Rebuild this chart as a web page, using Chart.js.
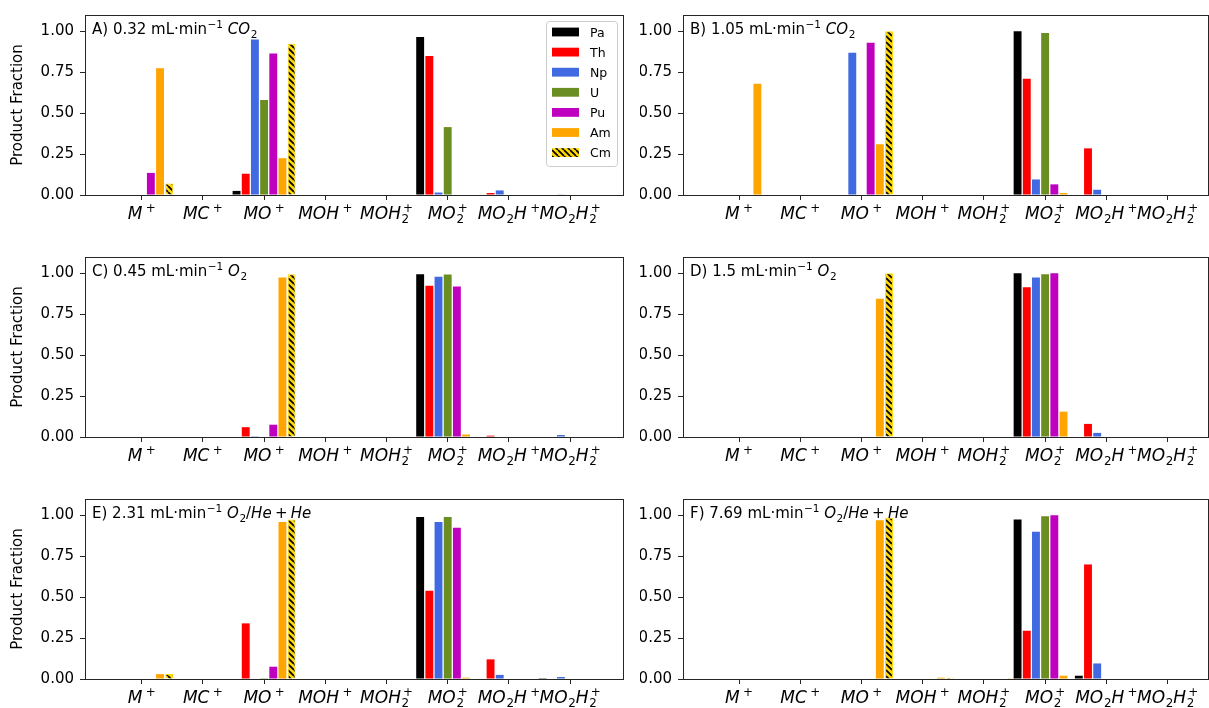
<!DOCTYPE html>
<html>
<head>
<meta charset="utf-8">
<script src="https://cdn.jsdelivr.net/npm/chart.js@4/dist/chart.umd.min.js"></script>
<style>
  body { margin: 0; background: #fff; width: 1209px; height: 708px; overflow: hidden; position: relative; }
  canvas { position: absolute; }
</style>
</head>
<body>
<script>
// categories (mathtext-like: _ = subscript, ^ = superscript)
const categories = ['$M^+$', '$MC^+$', '$MO^+$', '$MOH^+$', '$MOH_2^+$', '$MO_2^+$', '$MO_2H^+$', '$MO_2H_2^+$'];
const elements = ['Pa', 'Th', 'Np', 'U', 'Pu', 'Am', 'Cm'];
const colors = ['#000000', '#ff0000', '#4169e1', '#6b8e23', '#bf00bf', '#ffa500', '#ffd700'];
const yTicks = [0, 0.25, 0.5, 0.75, 1.0];
const titles = [
  'A) 0.32 mL·min$^{-1}$ $CO_2$',
  'B) 1.05 mL·min$^{-1}$ $CO_2$',
  'C) 0.45 mL·min$^{-1}$ $O_2$',
  'D) 1.5 mL·min$^{-1}$ $O_2$',
  'E) 2.31 mL·min$^{-1}$ $O_2/He + He$',
  'F) 7.69 mL·min$^{-1}$ $O_2/He + He$'
];

// product fractions, one row per element (Pa, Th, Np, U, Pu, Am, Cm), columns in category order
const panelA = [
  [0, 0, 0.025, 0, 0, 0.965, 0, 0.003],
  [0, 0, 0.13, 0, 0, 0.85, 0.012, 0],
  [0, 0, 0.95, 0, 0, 0.015, 0.028, 0.004],
  [0, 0, 0.58, 0, 0, 0.415, 0, 0],
  [0.135, 0, 0.865, 0, 0, 0, 0, 0],
  [0.775, 0, 0.225, 0, 0, 0, 0, 0],
  [0.07, 0, 0.925, 0, 0, 0, 0, 0]
];
const panelB = [
  [0, 0, 0, 0, 0, 1.0, 0, 0],
  [0, 0, 0, 0, 0, 0.71, 0.285, 0],
  [0, 0, 0.87, 0, 0, 0.095, 0.032, 0],
  [0, 0, 0, 0, 0, 0.99, 0, 0],
  [0, 0, 0.93, 0, 0, 0.065, 0, 0],
  [0.68, 0, 0.31, 0, 0, 0.012, 0, 0],
  [0, 0, 1.0, 0, 0, 0, 0, 0]
];
const panelC = [
  [0, 0, 0, 0, 0, 0.995, 0, 0],
  [0, 0, 0.06, 0, 0, 0.925, 0.008, 0],
  [0, 0, 0.005, 0, 0, 0.98, 0, 0.012],
  [0, 0, 0, 0, 0, 0.993, 0, 0],
  [0, 0, 0.075, 0, 0, 0.92, 0, 0],
  [0.003, 0, 0.975, 0, 0.003, 0.015, 0, 0],
  [0, 0, 0.995, 0, 0, 0, 0, 0]
];
const panelD = [
  [0, 0, 0, 0, 0, 1.0, 0, 0],
  [0, 0, 0, 0, 0, 0.915, 0.08, 0],
  [0, 0, 0, 0, 0, 0.975, 0.025, 0],
  [0, 0, 0, 0, 0, 0.995, 0, 0],
  [0, 0, 0, 0, 0, 1.0, 0, 0],
  [0, 0, 0.845, 0, 0, 0.155, 0, 0],
  [0, 0, 1.0, 0, 0, 0, 0, 0]
];
const panelE = [
  [0, 0, 0, 0, 0, 0.99, 0, 0.005],
  [0, 0, 0.34, 0, 0, 0.54, 0.12, 0],
  [0, 0, 0, 0, 0, 0.96, 0.025, 0.012],
  [0, 0, 0.005, 0, 0, 0.99, 0, 0],
  [0, 0, 0.075, 0, 0, 0.925, 0, 0],
  [0.03, 0, 0.96, 0, 0, 0.008, 0, 0],
  [0.03, 0, 0.975, 0, 0, 0, 0, 0]
];
const panelF = [
  [0, 0, 0, 0, 0, 0.975, 0.02, 0],
  [0, 0, 0, 0, 0, 0.295, 0.7, 0],
  [0, 0, 0, 0, 0, 0.9, 0.095, 0],
  [0, 0, 0, 0, 0, 0.995, 0, 0],
  [0, 0, 0, 0, 0, 1.0, 0, 0],
  [0, 0, 0.97, 0.008, 0, 0.02, 0, 0],
  [0, 0, 0.985, 0.008, 0.006, 0, 0, 0]
];
const panels = [panelA, panelB, panelC, panelD, panelE, panelF];

// layout (page pixels)
const colPlot = [[85, 623], [683, 1208]];
const colCanvas = [[0, 640], [640, 1209]];
const rowPlot = [[12, 195], [254, 437], [496, 679]];
const xLimits = [[-0.926, 7.864], [-0.915, 7.66]];
const FONT = '"DejaVu Sans", sans-serif';
const INK = '#262626';

// Cm hatch
function makeHatch() {
  const c = document.createElement('canvas');
  c.width = 6; c.height = 6;
  const g = c.getContext('2d');
  g.fillStyle = '#ffd700';
  g.fillRect(0, 0, 6, 6);
  g.strokeStyle = '#000';
  g.lineWidth = 1.7;
  g.beginPath();
  for (const o of [-6, 0, 6]) { g.moveTo(o, 0); g.lineTo(o + 6, 6); }
  g.stroke();
  return g.createPattern(c, 'repeat');
}
const cmHatch = makeHatch();

// tiny mathtext: letters in $..$ italic, _x / ^{..} scripts
function mathItems(src) {
  const out = [];
  src.split('$').forEach((part, k) => {
    if (k % 2 === 0) { if (part) out.push({ t: part, it: false, lvl: 0 }); return; }
    let i = 0;
    while (i < part.length) {
      const ch = part[i];
      if (ch === '_' || ch === '^') {
        i++;
        let arg;
        if (part[i] === '{') { const j = part.indexOf('}', i); arg = part.slice(i + 1, j); i = j + 1; }
        else { arg = part[i]; i++; }
        out.push({ t: arg.replace(/-/g, '\u2212'), it: /[A-Za-z]/.test(arg), lvl: ch === '_' ? -1 : 1 });
      } else {
        i++;
        if (ch === ' ') continue;
        if (ch === '+') out.push({ t: '+', it: false, lvl: 0, pad: true });
        else out.push({ t: ch, it: /[A-Za-z]/.test(ch), lvl: 0 });
      }
    }
  });
  return out;
}

function drawMath(ctx, src, x, y, size, align) {
  const font = (it, s) => (it ? 'italic ' : '') + s + 'px ' + FONT;
  let pen = 0, subX = 0, subW = 0, prev = 0, prevIt = false;
  const placed = [];
  for (const it of mathItems(src)) {
    const s = it.lvl ? size * 0.7 : size;
    ctx.font = font(it.it, s);
    const w = ctx.measureText(it.t).width;
    if (it.lvl === 0) {
      if (it.pad) pen += size * 0.22;
      placed.push({ it, s, x: pen, dy: 0 });
      pen += w;
      if (it.pad) pen += size * 0.22;
      prevIt = it.it;
    } else if (it.lvl === -1) {
      pen += size * (prevIt ? 0.04 : 0);
      placed.push({ it, s, x: pen, dy: size * 0.24 });
      subX = pen; subW = w; pen += w;
    } else if (prev === -1) {
      placed.push({ it, s, x: subX + size * 0.08, dy: -size * 0.42 });
      pen = subX + Math.max(subW, w + size * 0.08);
    } else {
      const x0 = pen + size * (prevIt ? 0.2 : 0.03);
      placed.push({ it, s, x: x0, dy: -size * 0.42 });
      pen = x0 + w;
    }
    prev = it.lvl;
  }
  const left = align === 'center' ? x - pen / 2 : x;
  ctx.textAlign = 'left';
  ctx.textBaseline = 'alphabetic';
  for (const p of placed) {
    ctx.font = font(p.it.it, p.s);
    ctx.fillText(p.it.t, left + p.x, y + p.dy);
  }
}

// frame, category labels, panel title, legend
const deco = {
  id: 'deco',
  afterDatasetsDraw(chart, args, opts) {
    const { ctx, chartArea: a } = chart;
    const xs = chart.scales.x;
    ctx.save();
    ctx.strokeStyle = INK;
    ctx.lineWidth = 1;
    ctx.strokeRect(Math.round(a.left) + 0.5, Math.round(a.top) + 0.5,
      Math.round(a.right - a.left), Math.round(a.bottom - a.top));
    ctx.fillStyle = '#000';
    categories.forEach((c, i) => drawMath(ctx, c, xs.getPixelForValue(i), a.bottom + 24, 17, 'center'));
    drawMath(ctx, opts.title, a.left + 7, a.top + 19, 15, 'left');
    if (opts.legend) {
      const w = 71, h = 145;
      const bx = a.right - 6 - w, by = a.top + 6;
      ctx.fillStyle = 'rgba(255,255,255,0.8)';
      ctx.strokeStyle = '#cccccc';
      ctx.beginPath();
      ctx.roundRect(bx + 0.5, by + 0.5, w, h, 3);
      ctx.fill();
      ctx.stroke();
      chart.data.datasets.forEach((ds, k) => {
        const cy = by + 11 + k * 20.1;
        ctx.fillStyle = ds.backgroundColor;
        ctx.fillRect(bx + 6, cy - 4.4, 27, 8.8);
        ctx.fillStyle = '#000';
        ctx.font = '12.5px ' + FONT;
        ctx.fillText(ds.label, bx + 44, cy + 4.5);
      });
    }
    ctx.restore();
  }
};

panels.forEach((panel, p) => {
  const col = p % 2, row = Math.floor(p / 2);
  const [cx0, cx1] = colCanvas[col];
  const [px0, px1] = colPlot[col];
  const [py0, py1] = rowPlot[row];
  const cy0 = py0 - 12, cy1 = Math.min(708, py1 + 30);
  const canvas = document.createElement('canvas');
  canvas.width = cx1 - cx0;
  canvas.height = cy1 - cy0;
  canvas.style.left = cx0 + 'px';
  canvas.style.top = cy0 + 'px';
  document.body.appendChild(canvas);

  new Chart(canvas, {
    type: 'bar',
    data: {
      labels: categories.map((_, i) => i),
      datasets: elements.map((el, k) => ({
        label: el,
        data: panel[k],
        backgroundColor: k === 6 ? cmHatch : colors[k],
        borderColor: k === 6 ? '#ffd700' : colors[k],
        borderWidth: k === 6 ? 1 : 0,
        categoryPercentage: 1.05,
        barPercentage: 0.86
      }))
    },
    options: {
      responsive: false,
      animation: false,
      devicePixelRatio: 1,
      events: [],
      layout: { padding: { left: 0, top: py0 - cy0, right: cx1 - px1, bottom: 0 } },
      plugins: {
        legend: { display: false },
        tooltip: { enabled: false },
        deco: { title: titles[p], legend: p === 0 }
      },
      scales: {
        x: {
          type: 'linear',
          offset: false,
          min: xLimits[col][0],
          max: xLimits[col][1],
          afterBuildTicks: s => { s.ticks = categories.map((_, i) => ({ value: i })); },
          afterFit: s => { s.height = cy1 - py1; },
          ticks: { display: false },
          grid: { display: true, offset: false, drawOnChartArea: false, drawTicks: true, tickLength: 5, tickColor: INK, color: INK },
          border: { display: true, color: INK, width: 1 }
        },
        y: {
          min: 0,
          max: 1.1,
          afterBuildTicks: s => { s.ticks = yTicks.map(v => ({ value: v })); },
          afterFit: s => { s.width = px0 - cx0; },
          ticks: {
            callback: v => v.toFixed(2),
            color: '#000',
            padding: 6,
            font: { family: FONT, size: 15 }
          },
          grid: { display: true, drawOnChartArea: false, drawTicks: true, tickLength: 5, tickColor: INK, color: INK },
          border: { display: true, color: INK, width: 1 },
          title: {
            display: col === 0,
            text: 'Product Fraction',
            color: '#000',
            font: { family: FONT, size: 15 },
            padding: { top: 9, bottom: 0 }
          }
        }
      }
    },
    plugins: [deco]
  });
});
</script>
</body>
</html>
